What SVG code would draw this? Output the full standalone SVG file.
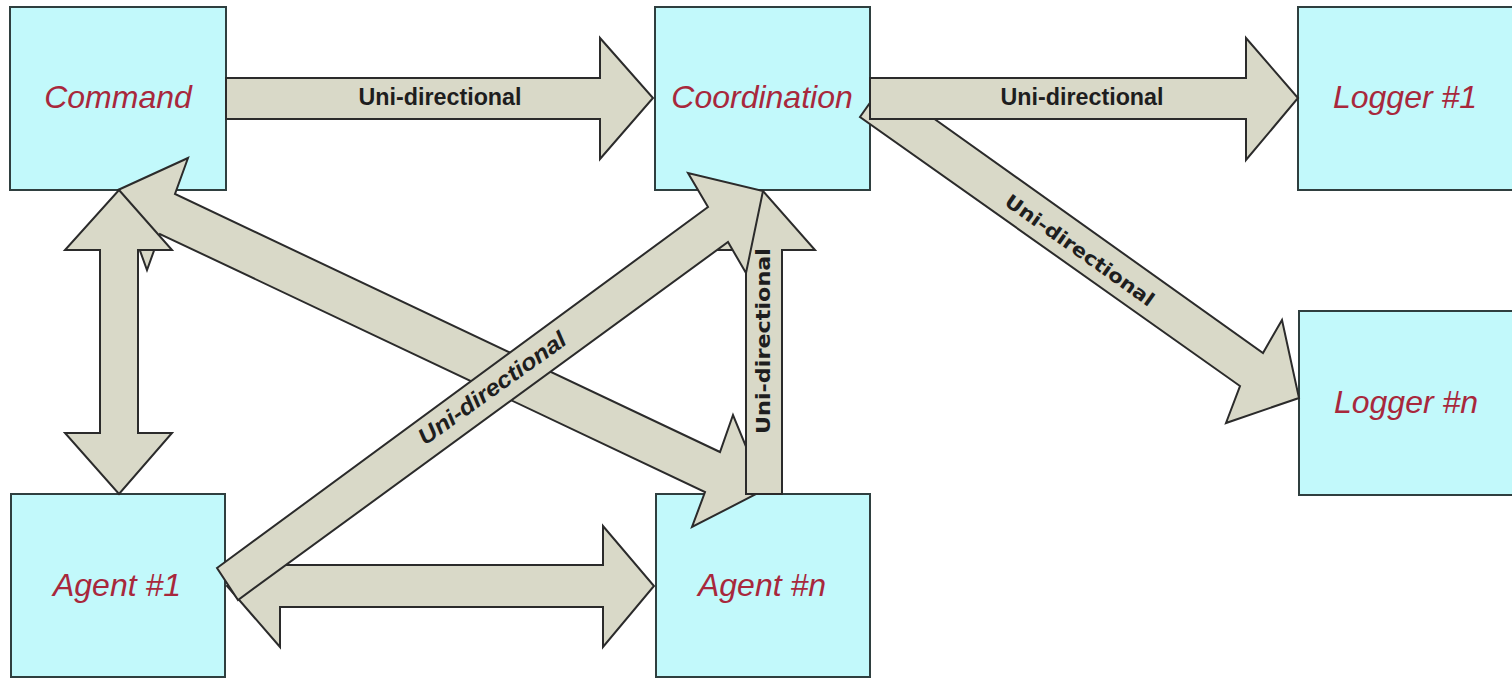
<svg xmlns="http://www.w3.org/2000/svg" width="1512" height="678" viewBox="0 0 1512 678">
<style>
.box{fill:#C2F9FB;stroke:#2F3F3F;stroke-width:2}
.lbl{font-family:"Liberation Sans",Arial,sans-serif;font-style:italic;font-size:32px;fill:#A8283C;text-anchor:middle}
.arr{fill:#D9D9C8;stroke:#2B2B2B;stroke-width:2;stroke-linejoin:miter}
.al{font-family:"Liberation Sans",Arial,sans-serif;font-weight:bold;font-size:23px;fill:#1E1E1E;text-anchor:middle}
.ai{font-family:"Liberation Sans",Arial,sans-serif;font-weight:bold;font-style:italic;font-size:23px;fill:#1E1E1E;text-anchor:middle}
.av{font-family:"DejaVu Sans",Verdana,sans-serif;font-weight:bold;font-size:19px;fill:#1E1E1E;text-anchor:middle}
</style>
<rect width="1512" height="678" fill="#FFFFFF"/>
<g id="command"><rect class="box" x="10" y="7" width="216" height="183"/><text class="lbl" x="118" y="108">Command</text></g>
<g id="coordination"><rect class="box" x="655" y="7" width="215" height="183"/><text class="lbl" x="762" y="108">Coordination</text></g>
<g id="logger1"><rect class="box" x="1298" y="7" width="216" height="183"/><text class="lbl" x="1405" y="108">Logger #1</text></g>
<g id="loggern"><rect class="box" x="1299" y="311" width="215" height="184"/><text class="lbl" x="1406" y="413">Logger #n</text></g>
<g id="agent1"><rect class="box" x="11" y="494" width="214" height="183"/><text class="lbl" x="117" y="596">Agent #1</text></g>
<g id="agentn"><rect class="box" x="656" y="494" width="214" height="183"/><text class="lbl" x="762" y="596">Agent #n</text></g>
<g id="connectors">
<g id="cmd-coord"><polygon class="arr" points="226,78 600,78 600,38 653,98 600,159 600,119 226,119"/><text class="al" x="440" y="105" textLength="163" lengthAdjust="spacingAndGlyphs">Uni-directional</text></g>
<g id="coord-loggern"><polygon class="arr" points="884,83 1263,353 1282,320 1299,398 1226,423 1240,386 860,117"/><text class="av" transform="translate(1080,250) rotate(35.3)" x="0" y="7" textLength="178" lengthAdjust="spacingAndGlyphs">Uni-directional</text></g>
<g id="coord-logger1"><polygon class="arr" points="870,78 1246,78 1246,38 1298,98 1246,160 1246,119 870,119"/><text class="al" x="1082" y="105" textLength="163" lengthAdjust="spacingAndGlyphs">Uni-directional</text></g>
<g id="cmd-agentn"><polygon class="arr" points="118,190 188,158 175,194 720,452 733,415 764,490 692,527 705,492 160,234 147,270"/></g>
<g id="cmd-agent1"><polygon class="arr" points="119,190 172,250 138,250 138,433 172,433 119,494 65,433 100,433 100,250 65,250"/></g>
<g id="agentn-coord"><polygon class="arr" points="746,494 746,250 712,250 763,191 815,250 782,250 782,494"/><text class="av" transform="translate(763,341) rotate(-90)" x="0" y="7" textLength="186" lengthAdjust="spacingAndGlyphs">Uni-directional</text></g>
<g id="agent1-agentn"><polygon class="arr" points="227,586 280,525 280,565 603,565 603,526 654,586 603,647 603,607 280,607 280,647"/></g>
<g id="agent1-coord"><polygon class="arr" points="217,568 708,207 688,173 763,191 746,273 728,242 238,600"/><text class="ai" transform="translate(492,388) rotate(-35.6)" x="0" y="8" textLength="176" lengthAdjust="spacingAndGlyphs">Uni-directional</text></g>
</g>
</svg>
